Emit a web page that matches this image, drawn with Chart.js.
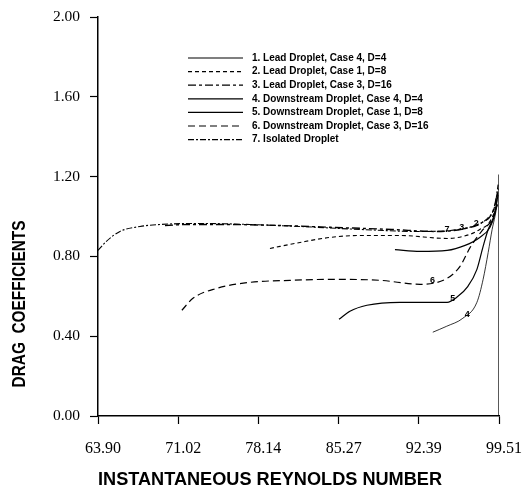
<!DOCTYPE html>
<html>
<head>
<meta charset="utf-8">
<script src="https://cdn.jsdelivr.net/npm/chart.js@4.4.0/dist/chart.umd.min.js"></script>
<style>
  html, body { margin: 0; padding: 0; background: #fff; }
  #wrap { width: 529px; height: 495px; }
</style>
</head>
<body>
<div id="wrap"><canvas id="drag_chart"></canvas></div>
<script>
// tick values on the Reynolds axis
var reTicks = [63.90, 71.02, 78.14, 85.27, 92.39, 99.51];

var seriesNames = [
  "1. Lead Droplet, Case 4, D=4",
  "2. Lead Droplet, Case 1, D=8",
  "3. Lead Droplet, Case 3, D=16",
  "4. Downstream Droplet, Case 4, D=4",
  "5. Downstream Droplet, Case 1, D=8",
  "6. Downstream Droplet, Case 3, D=16",
  "7. Isolated Droplet"
];

var xTitle = "INSTANTANEOUS REYNOLDS NUMBER";
var yTitle = "DRAG  COEFFICIENTS";

// Reynolds number / drag coefficient
var lead1Re = [90.27, 92.5, 94.9, 96.5, 97.8, 98.7, 99.15, 99.42];
var lead1Cd = [0.834, 0.825, 0.83, 0.855, 0.895, 0.945, 1.015, 1.11];

var lead2Re = [79.17, 81.84, 84.5, 87.15, 90.7, 94.9, 96.9, 97.8, 98.7, 99.25, 99.43];
var lead2Cd = [0.84, 0.87, 0.895, 0.905, 0.905, 0.89, 0.91, 0.935, 0.975, 1.06, 1.135];

var lead3Re = [69.85, 72.0, 75.0, 80.0, 85.0, 90.0, 94.0, 96.5, 98.0, 99.0, 99.45];
var lead3Cd = [0.955, 0.96, 0.96, 0.955, 0.945, 0.935, 0.925, 0.94, 0.97, 1.03, 1.14];

var down4Re = [93.63, 94.87, 96.3, 97.55, 98.1, 98.55, 98.9, 99.15, 99.35];
var down4Cd = [0.42, 0.45, 0.49, 0.57, 0.685, 0.82, 0.935, 1.0, 1.06];

var down5Re = [85.3, 86.27, 87.78, 90.7, 94.9, 95.76, 96.75, 97.55, 98.1, 98.55, 98.95, 99.35];
var down5Cd = [0.485, 0.525, 0.555, 0.57, 0.57, 0.595, 0.65, 0.735, 0.85, 0.935, 0.985, 1.06];

var down6Re = [71.35, 72.33, 74.46, 77.4, 80.95, 84.8, 88.97, 92.5, 94.9, 96.05, 96.95, 98.1, 98.9, 99.35];
var down6Cd = [0.53, 0.59, 0.64, 0.67, 0.68, 0.685, 0.68, 0.66, 0.69, 0.75, 0.845, 0.935, 0.985, 1.06];

var isoRe = [63.90, 64.61, 65.85, 67.63, 69.4, 72.96, 77.4, 81.84, 87.17, 92.5, 95.16, 97.38, 98.55, 99.17, 99.43];
var isoCd = [0.83, 0.874, 0.925, 0.95, 0.96, 0.965, 0.96, 0.95, 0.935, 0.925, 0.93, 0.955, 0.995, 1.06, 1.16];

// right edge line of the frame
var edgeRe = [99.51, 99.51];
var edgeCd = [0.0, 1.21];

// number tags written beside the curves
var tagText = ["7", "3", "2", "6", "5", "4"];
var tagRe = [94.9, 96.2, 97.5, 93.6, 95.4, 96.7];
var tagCd = [0.935, 0.945, 0.965, 0.68, 0.59, 0.51];

function pts(xs, ys) {
  var out = [];
  for (var i = 0; i < xs.length; i++) out.push({x: xs[i], y: ys[i]});
  return out;
}

function line(label, xs, ys, dash, width) {
  return {
    label: label,
    data: pts(xs, ys),
    borderColor: "#000",
    borderWidth: width,
    borderDash: dash,
    pointRadius: 0,
    fill: false,
    cubicInterpolationMode: "monotone"
  };
}

var dashes = [[], [4, 3], [8, 3, 3, 3], [], [], [7, 4], [6, 2, 2, 2]];

var extras = {
  id: "extras",
  afterDatasetsDraw: function(chart) {
    var c = chart.ctx;
    var sets = chart.data.datasets;
    c.save();
    c.fillStyle = "#000";
    c.strokeStyle = "#000";
    // legend box inside the plot
    c.font = "bold 10px 'Liberation Sans', Arial, sans-serif";
    c.textBaseline = "middle";
    for (var i = 0; i < seriesNames.length; i++) {
      var y = 58 + i * 13.6;
      c.lineWidth = 1.2;
      c.setLineDash(sets[i].borderDash);
      c.beginPath();
      c.moveTo(188, y);
      c.lineTo(243, y);
      c.stroke();
      c.setLineDash([]);
      c.fillText(seriesNames[i], 252, y);
    }
    // tags beside curves
    c.font = "bold 9px 'Liberation Sans', Arial, sans-serif";
    c.textAlign = "center";
    var xs = chart.scales.x, ys = chart.scales.y;
    for (var j = 0; j < tagText.length; j++) {
      c.fillText(tagText[j], xs.getPixelForValue(tagRe[j]), ys.getPixelForValue(tagCd[j]));
    }
    // axis titles
    c.font = "bold 19px 'Liberation Sans', Arial, sans-serif";
    c.fillText(xTitle, 270, 480, 344);
    c.translate(20, 304);
    c.rotate(-Math.PI / 2);
    c.font = "bold 18px 'Liberation Sans', Arial, sans-serif";
    c.fillText(yTitle, 0, 0, 167);
    c.restore();
  }
};

var ctx = document.getElementById("drag_chart").getContext('2d');
var drag_chart = new Chart(ctx, {
  type: 'line',
  data: {
    datasets: [
      line(seriesNames[0], lead1Re, lead1Cd, dashes[0], 1.2),
      line(seriesNames[1], lead2Re, lead2Cd, dashes[1], 1.1),
      line(seriesNames[2], lead3Re, lead3Cd, dashes[2], 1.4),
      line(seriesNames[3], down4Re, down4Cd, dashes[3], 0.8),
      line(seriesNames[4], down5Re, down5Cd, dashes[4], 1.2),
      line(seriesNames[5], down6Re, down6Cd, dashes[5], 1.2),
      line(seriesNames[6], isoRe, isoCd, dashes[6], 1.1),
      line("edge", edgeRe, edgeCd, [], 1.3)
    ]
  },
  options: {
    responsive: true,
    maintainAspectRatio: false,
    animation: false,
    layout: { padding: { top: 17, right: 30, left: 0, bottom: 0 } },
    plugins: {
      legend: { display: false },
      tooltip: { enabled: false }
    },
    scales: {
      x: {
        type: 'linear',
        min: 63.90,
        max: 99.51,
        afterBuildTicks: function(scale) {
          scale.ticks = reTicks.map(function(v) { return {value: v}; });
        },
        afterFit: function(scale) {
          scale.height = 79;
          scale.paddingLeft = 0;
          scale.paddingRight = 0;
        },
        grid: {
          drawOnChartArea: false,
          drawTicks: true,
          tickLength: 8,
          color: "#000",
          tickWidth: 1.2
        },
        border: { display: true, color: "#000", width: 1.5 },
        ticks: {
          color: "#000",
          padding: 15,
          labelOffset: 5,
          maxRotation: 0,
          autoSkip: false,
          font: { family: "'Liberation Serif', 'Times New Roman', serif", size: 16 },
          callback: function(v) { return Number(v).toFixed(2); }
        }
      },
      y: {
        min: 0,
        max: 2,
        afterFit: function(scale) {
          scale.width = 98;
          scale.paddingTop = 0;
          scale.paddingBottom = 0;
        },
        grid: {
          drawOnChartArea: false,
          drawTicks: true,
          tickLength: 8,
          color: "#000",
          tickWidth: 1.2
        },
        border: { display: true, color: "#000", width: 1.5 },
        ticks: {
          stepSize: 0.4,
          color: "#000",
          padding: 10,
          font: { family: "'Liberation Serif', 'Times New Roman', serif", size: 15.5 },
          callback: function(v) { return Number(v).toFixed(2); }
        }
      }
    }
  },
  plugins: [extras]
});
</script>
</body>
</html>
